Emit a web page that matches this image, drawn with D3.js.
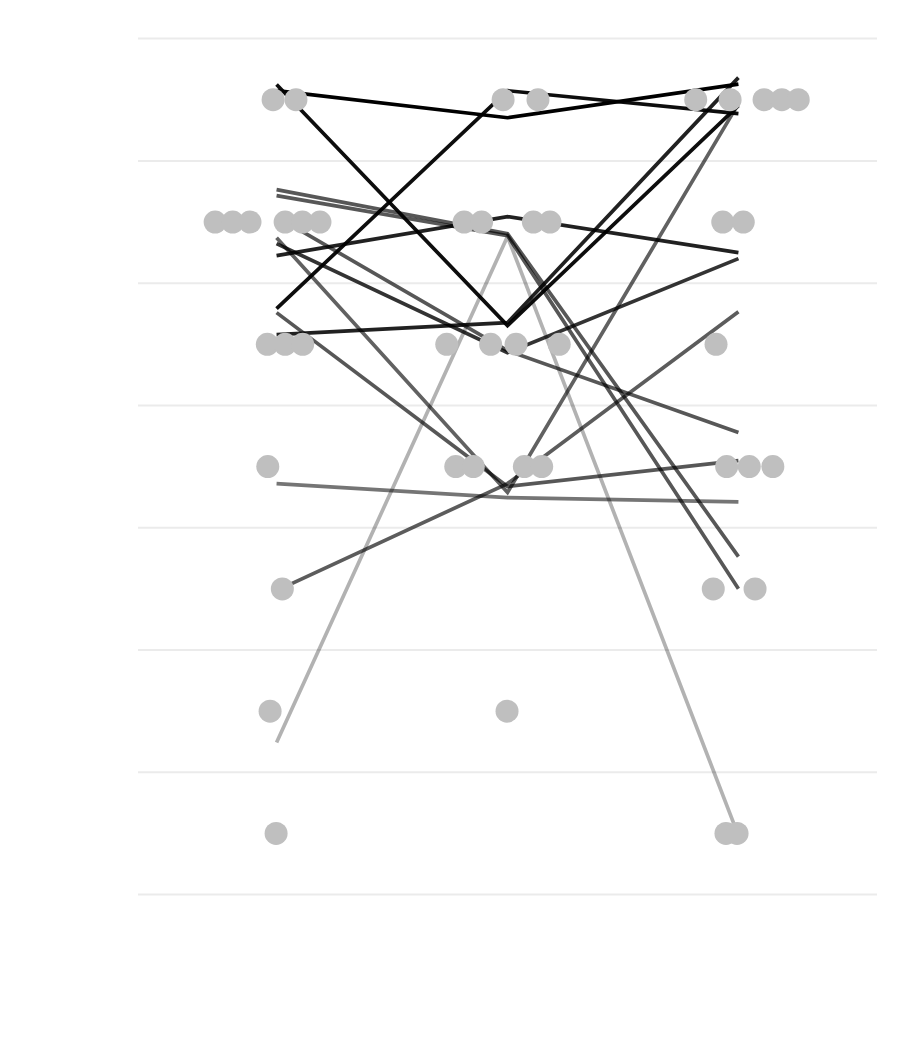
<!DOCTYPE html>
<html>
<head>
<meta charset="utf-8">
<script src="https://cdn.jsdelivr.net/npm/d3@7"></script>
<style>
  html, body { margin: 0; padding: 0; background: #fff; }
  svg { display: block; }
</style>
</head>
<body>
<svg id="chart" width="900" height="1050"></svg>
<script>
// ---- data ----
const columns = [1, 2, 3];
const gridValues = [0.5, 1.5, 2.5, 3.5, 4.5, 5.5, 6.5, 7.5];

// individual responses (beeswarm dots): column, rating, horizontal dodge (in column units)
const dotColumn = [
  1, 1, 2, 2, 3, 3, 3, 3, 3,
  1, 1, 1, 1, 1, 1, 2, 2, 2, 2, 3, 3,
  1, 1, 1, 2, 2, 2, 2, 3,
  1, 2, 2, 2, 2, 3, 3, 3,
  1, 3, 3,
  1, 2,
  1, 3, 3
];
const dotRating = [
  7, 7, 7, 7, 7, 7, 7, 7, 7,
  6, 6, 6, 6, 6, 6, 6, 6, 6, 6, 6, 6,
  5, 5, 5, 5, 5, 5, 5, 5,
  4, 4, 4, 4, 4, 4, 4, 4,
  3, 3, 3,
  2, 2,
  1, 1, 1
];
const dotDodge = [
  -0.015, 0.084, -0.019, 0.132, -0.185, -0.036, 0.111, 0.188, 0.259,
  -0.266, -0.190, -0.115, 0.037, 0.112, 0.188, -0.188, -0.112, 0.112, 0.184, -0.068, 0.021,
  -0.040, 0.037, 0.113, -0.263, -0.073, 0.037, 0.224, -0.097,
  -0.038, -0.224, -0.148, 0.073, 0.148, -0.051, 0.047, 0.149,
  0.025, -0.109, 0.072,
  -0.028, -0.002,
  -0.002, -0.054, -0.006
];

// trajectories: value at column 1, 2, 3 and a strength (mapped to opacity)
const lineCol1 = [7.124, 7.074, 5.292, 5.725, 6.265, 6.216, 1.743, 5.079, 5.823, 6.044, 5.872, 5.259, 2.986, 3.861];
const lineCol2 = [5.153, 6.853, 7.074, 6.044, 5.905, 5.889, 5.881, 5.177, 4.932, 4.948, 3.788, 3.837, 3.861, 3.746];
const lineCol3 = [6.952, 7.128, 6.886, 5.750, 3.264, 3.002, 0.982, 7.181, 5.701, 4.278, 6.968, 4.049, 5.267, 3.712];
const lineStrength = [0.95, 1.0, 0.95, 0.87, 0.66, 0.66, 0.3, 0.87, 0.8, 0.66, 0.62, 0.66, 0.64, 0.54];

// ---- chart ----
const svg = d3.select("#chart");
const x = d3.scaleLinear().domain([0.4, 3.6]).range([138, 877]);
const y = d3.scaleLinear().domain([0.5, 7.5]).range([894.6, 38.6]);
const opacity = d3.scaleLinear().domain([0, 1]).range([0, 1]);

svg.append("rect").attr("width", 900).attr("height", 1050).attr("fill", "#fff");

// gridlines
svg.append("g")
  .selectAll("line")
  .data(gridValues)
  .join("line")
  .attr("x1", x.range()[0])
  .attr("x2", x.range()[1])
  .attr("y1", d => y(d))
  .attr("y2", d => y(d))
  .attr("stroke", "#ebebeb")
  .attr("stroke-width", 2);

// trajectories
const lines = lineCol1.map((v, i) => ({
  pts: [[columns[0], v], [columns[1], lineCol2[i]], [columns[2], lineCol3[i]]],
  s: lineStrength[i]
}));
const lineGen = d3.line().x(d => x(d[0])).y(d => y(d[1]));

svg.append("g")
  .selectAll("path")
  .data(lines)
  .join("path")
  .attr("d", d => lineGen(d.pts))
  .attr("fill", "none")
  .attr("stroke", "#000")
  .attr("stroke-opacity", d => opacity(d.s))
  .attr("stroke-width", 3.7)
  .attr("stroke-linejoin", "miter");

// dots
const dots = dotColumn.map((c, i) => ({ c, r: dotRating[i], j: dotDodge[i] }));
svg.append("g")
  .selectAll("circle")
  .data(dots)
  .join("circle")
  .attr("cx", d => x(d.c + d.j))
  .attr("cy", d => y(d.r))
  .attr("r", 11.5)
  .attr("fill", "#bfbfbf");
</script>
</body>
</html>
